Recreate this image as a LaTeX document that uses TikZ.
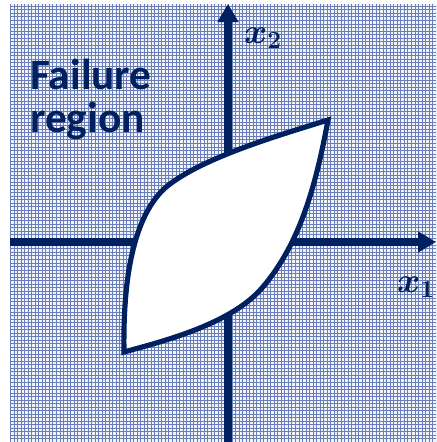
\documentclass[tikz,border=0pt]{standalone}
\usepackage{fix-cm}
\usepackage{fontspec}
\newfontfamily\regionfont{Carlito}
\usepackage{tikz}
\usetikzlibrary{arrows.meta,patterns}
\newcommand{\bigsub}[1]{\mbox{\fontsize{21}{21}\selectfont\boldmath$#1$}}

\definecolor{navy}{HTML}{002060}
\definecolor{gridblue}{RGB}{105,125,185}
\definecolor{hatchbase}{RGB}{240,243,250}

\begin{document}
\begin{tikzpicture}[
  x=0.03cm,y=-0.03cm,
  axis/.style={-{Triangle[length=5.4mm,width=6mm]}, line width=6pt, draw=navy},
  limit/.style={draw=navy, line width=4.4pt, fill=white, line join=miter},
  varlabel/.style={text=navy, inner sep=0pt, anchor=base west, font=\fontsize{30}{30}\selectfont\boldmath},
  regionlabel/.style={text=navy, inner sep=0pt, anchor=base west, align=left, font=\regionfont\bfseries\fontsize{37}{36}\selectfont}
]
\useasboundingbox (0,0) rectangle (436,442);
% hatched failure region
\fill[hatchbase] (10,4) rectangle (436,442);
\fill[pattern=grid, pattern color=gridblue] (10,4) rectangle (436,442);
% axes
\coordinate (xstart) at (10,242);
\coordinate (xend) at (436,242);
\coordinate (ystart) at (228,442);
\coordinate (yend) at (228,4);
\draw[axis] (xstart) -- (xend);
\draw[axis] (ystart) -- (yend);
% safe domain
\coordinate (lowcorner) at (124,352);
\coordinate (highcorner) at (328,120);
\draw[limit] (lowcorner) .. controls (123,290) and (130,220) .. (165,188)
  .. controls (200,158) and (280,135) .. (highcorner)
  .. controls (316,185) and (300,244) .. (262,288)
  .. controls (230,325) and (160,342) .. (lowcorner) -- cycle;
% labels
\node[varlabel] (xtwolabel) at (244,43) {$x_{\bigsub{2}}$};
\node[varlabel] (xonelabel) at (397,292) {$x_{\bigsub{1}}$};
\node[regionlabel] (failure) at (30,132) {Failure\\region};
\end{tikzpicture}
\end{document}
